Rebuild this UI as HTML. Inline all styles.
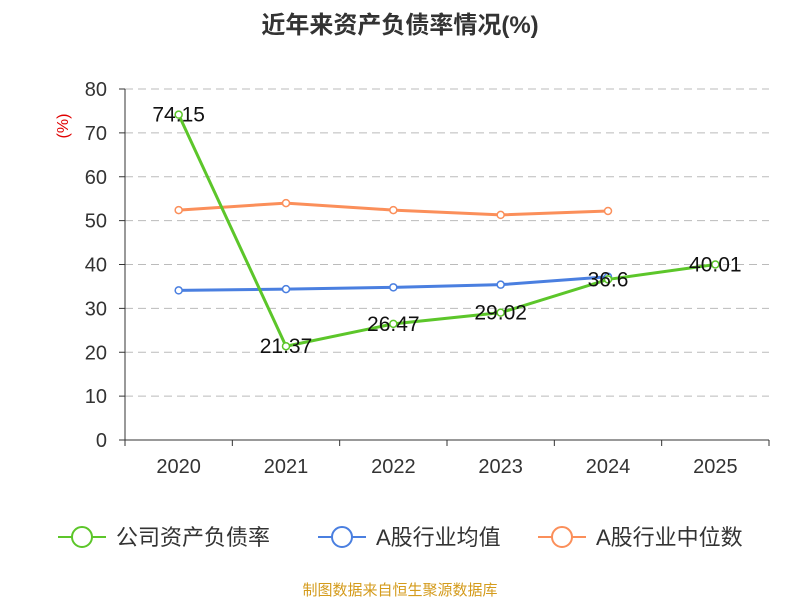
<!DOCTYPE html>
<html><head><meta charset="utf-8"><style>
body{margin:0;background:#fff;}
svg{font-family:"Liberation Sans","Noto Sans CJK SC",sans-serif;}
</style></head><body>
<svg id="c" width="800" height="600">
<text x="400" y="33" text-anchor="middle" font-size="24" font-weight="bold" fill="#333">近年来资产负债率情况(%)</text>
<text transform="translate(68,126) rotate(-90)" text-anchor="middle" font-size="16" fill="#e00000">(%)</text>
<g id="grid"></g><g id="axes"></g><g id="series"></g><g id="legend"></g>
<text x="400" y="595" text-anchor="middle" font-size="15" fill="#d49b1c">制图数据来自恒生聚源数据库</text>
</svg>
<script>
const categories=["2020","2021","2022","2023","2024","2025"];
const companyVals=[74.15,21.37,26.47,29.02,36.6,40.01];
const avgVals=[34.1,34.4,34.8,35.4,37.2];
const medianVals=[52.4,54.0,52.4,51.3,52.2];
const yTicks=[0,10,20,30,40,50,60,70,80];
const seriesNames=["公司资产负债率","A股行业均值","A股行业中位数"];
const NS="http://www.w3.org/2000/svg";
const x0=125,x1=769,y0=440,y1=89;
const bw=(x1-x0)/categories.length;
const xs=i=>x0+bw*(i+0.5);
const ys=v=>y0-(v/80)*(y0-y1);
function mk(t,a,p){const e=document.createElementNS(NS,t);for(const k in a)e.setAttribute(k,a[k]);p.appendChild(e);return e;}
const grid=document.getElementById('grid'),axes=document.getElementById('axes'),ser=document.getElementById('series'),leg=document.getElementById('legend');
yTicks.forEach(v=>{
 if(v>0){const g=mk('line',{x1:x0,x2:x1,y1:ys(v),y2:ys(v),stroke:'#bbb','stroke-dasharray':'8,5'},grid);
 
 }
 const tk=mk('line',{x1:x0-6,x2:x0,y1:ys(v),y2:ys(v),stroke:'#333'},axes);
 
 
 const t=mk('text',{x:x0-18,y:ys(v)+7,'text-anchor':'end','font-size':20,fill:'#333'},axes);t.textContent=v;
 
 
});
const ya=mk('line',{x1:x0,x2:x0,y1:y1,y2:y0,stroke:'#333'},axes);


const xa=mk('line',{x1:x0,x2:x1,y1:y0,y2:y0,stroke:'#333'},axes);


for(let i=0;i<=categories.length;i++){const tk=mk('line',{x1:x0+bw*i,x2:x0+bw*i,y1:y0,y2:y0+6,stroke:'#333'},axes);
 
 }
categories.forEach((c,i)=>{const t=mk('text',{x:xs(i),y:473,'text-anchor':'middle','font-size':20,fill:'#333'},axes);t.textContent=c;
 
 });
function line(vals,color,name,labels){
 const g=mk('g',{},ser);
 
 
 const p=mk('polyline',{points:vals.map((v,i)=>xs(i)+','+ys(v)).join(' '),fill:'none',stroke:color,'stroke-width':3},g);
 
 
 vals.forEach((v,i)=>{const c=mk('circle',{cx:xs(i),cy:ys(v),r:3.5,fill:'#fff',stroke:color,'stroke-width':1.5},g);
  
  
  if(labels){const t=mk('text',{x:xs(i),y:ys(v)+7,'text-anchor':'middle','font-size':21,fill:'#111'},g);t.textContent=v;
   
   }
 });
}
line(medianVals,'#fb8f5a','median-series',false);
line(avgVals,'#4a7fe0','average-series',false);
line(companyVals,'#5cc62a','company-series',true);
const legX=[58,318,538],cols=['#5cc62a','#4a7fe0','#fb8f5a'];
seriesNames.forEach((n,i)=>{
 const g=mk('g',{},leg);
 
 
 mk('line',{x1:legX[i],x2:legX[i]+48,y1:537,y2:537,stroke:cols[i],'stroke-width':2},g);
 mk('circle',{cx:legX[i]+24,cy:537,r:10,fill:'#fff',stroke:cols[i],'stroke-width':2},g);
 const t=mk('text',{x:legX[i]+58,y:545,'font-size':22,fill:'#333'},g);t.textContent=n;
});
</script>
</body></html>
